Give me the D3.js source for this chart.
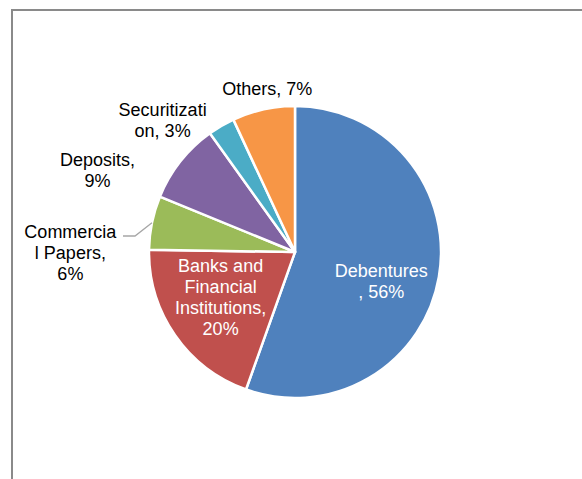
<!DOCTYPE html>
<html>
<head>
<meta charset="utf-8">
<script src="https://cdn.jsdelivr.net/npm/d3@7"></script>
<style>
  body { margin: 0; background: #fff; }
  svg { display: block; }
</style>
</head>
<body>
<svg id="chart" width="582" height="479"></svg>
<script>
// sources of funds, share in percent (as printed on the slices)
var categories = ["Debentures", "Banks and Financial Institutions", "Commercial Papers", "Deposits", "Securitization", "Others"];
var shares = [56, 20, 6, 9, 3, 7];
var colors = ["#4F81BD", "#C0504D", "#9BBB59", "#8064A2", "#4BACC6", "#F79646"];
// label text as Excel wrapped it
var labelLines = [
  ["Debentures", ", 56%"],
  ["Banks and", "Financial", "Institutions,", "20%"],
  ["Commercia", "l Papers,", "6%"],
  ["Deposits,", "9%"],
  ["Securitizati", "on, 3%"],
  ["Others, 7%"]
];
var inside = [true, true, false, false, false, false];

var W = 582, H = 479;
var cx = 295, cy = 252, r = 146;

var svg = d3.select("#chart");

// chart frame (runs off the right and bottom edge)
svg.append("rect")
  .attr("x", 12).attr("y", 10)
  .attr("width", 600).attr("height", 500)
  .attr("fill", "none")
  .attr("stroke", "#8a8a8a")
  .attr("stroke-width", 2);

var data = categories.map(function(c, i) {
  return {name: c, value: shares[i], color: colors[i], lines: labelLines[i], inside: inside[i]};
});

var pie = d3.pie().sort(null).value(function(d) { return d.value; });
var arcs = pie(data);

var arc = d3.arc().innerRadius(0).outerRadius(r);
var g = svg.append("g").attr("transform", "translate(" + cx + "," + cy + ")");

g.selectAll("path")
  .data(arcs)
  .enter()
  .append("path")
  .attr("d", arc)
  .attr("fill", function(d) { return d.data.color; })
  .attr("stroke", "#fff")
  .attr("stroke-width", 2.5)
  .attr("stroke-linejoin", "round");

// where the labels sit: inside ones on an inner ring, outside ones pushed out
var innerRing = d3.arc().innerRadius(r * 0.62).outerRadius(r * 0.62);
var outerRing = d3.arc().innerRadius(r * 1.2).outerRadius(r * 1.2);
// small nudges per label, like Excel's manual placements [dx, dy]
var nudge = [[-3, 14], [0, -6], [-53, 36], [-60, 27], [-44, 20], [10, 8]];

var lineH = 21;
var labels = g.selectAll("text.lbl")
  .data(arcs)
  .enter()
  .append("text")
  .attr("class", "lbl")
  .attr("text-anchor", "middle")
  .attr("font-family", "'Liberation Sans', Arial, sans-serif")
  .attr("font-size", 18)
  .attr("fill", function(d) { return d.data.inside ? "#fff" : "#000"; })
  .attr("transform", function(d, i) {
    var c = d.data.inside ? innerRing.centroid(d) : outerRing.centroid(d);
    return "translate(" + (c[0] + nudge[i][0]) + "," + (c[1] + nudge[i][1]) + ")";
  });

labels.each(function(d) {
  var t = d3.select(this);
  var n = d.data.lines.length;
  d.data.lines.forEach(function(line, k) {
    t.append("tspan")
      .attr("x", 0)
      .attr("y", (k - (n - 1) / 2) * lineH + 6)
      .text(line);
  });
});

// leader line for Commercial Papers
var cp = arcs[2];
var edge = d3.arc().innerRadius(r).outerRadius(r).centroid(cp);
svg.append("polyline")
  .attr("points", [[123, 236], [135, 236], [cx + edge[0], cy + edge[1]]].map(function(p) { return p.join(","); }).join(" "))
  .attr("fill", "none")
  .attr("stroke", "#a6a6a6")
  .attr("stroke-width", 1.3);
</script>
</body>
</html>
